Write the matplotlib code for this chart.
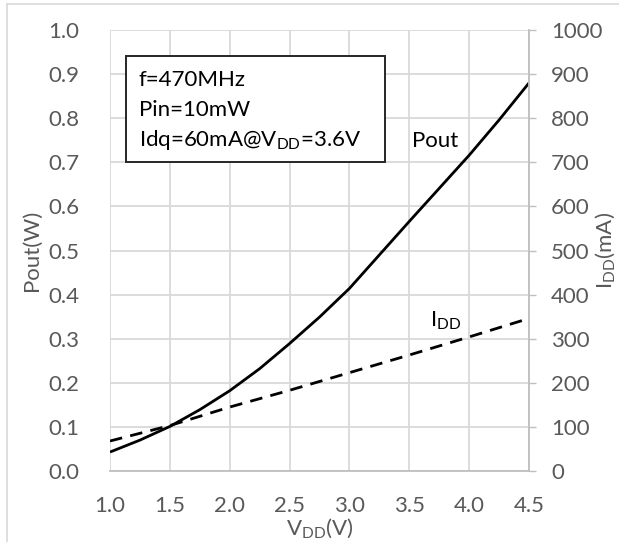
import matplotlib
matplotlib.use("Agg")
import matplotlib.pyplot as plt
from matplotlib.patches import Rectangle
from matplotlib.lines import Line2D

plt.rcParams['font.family'] = ['Lato', 'DejaVu Sans']

# Data
vdd_pout = [1.0, 1.25, 1.5, 1.75, 2.0, 2.25, 2.5, 2.75, 3.0, 3.25, 3.5, 3.75, 4.0, 4.25, 4.5]
pout_w = [0.043, 0.070, 0.101, 0.139, 0.182, 0.232, 0.289, 0.349, 0.414, 0.490, 0.566, 0.641, 0.716, 0.796, 0.880]
vdd_idd = [1.0, 1.5, 2.0, 2.5, 3.0, 3.5, 4.0, 4.5]
idd_ma = [68, 103, 145, 183, 223, 263, 304, 346]

x_ticks = [1.0, 1.5, 2.0, 2.5, 3.0, 3.5, 4.0, 4.5]
x_ticklabels = ['1.0', '1.5', '2.0', '2.5', '3.0', '3.5', '4.0', '4.5']
yl_ticks = [0.0, 0.1, 0.2, 0.3, 0.4, 0.5, 0.6, 0.7, 0.8, 0.9, 1.0]
yl_ticklabels = ['0.0', '0.1', '0.2', '0.3', '0.4', '0.5', '0.6', '0.7', '0.8', '0.9', '1.0']
yr_ticks = [0, 100, 200, 300, 400, 500, 600, 700, 800, 900, 1000]
yr_ticklabels = [str(v) for v in yr_ticks]

info_lines = ['f=470MHz', 'Pin=10mW', 'Idq=60mA@V$_\\mathregular{DD}$=3.6V']

GREY = '#595959'
GRID = '#d9d9d9'
FS = 16

fig = plt.figure(figsize=(6.19, 5.42), dpi=100)
fig.subplots_adjust(left=0.1777, right=0.8546, top=0.9446, bottom=0.131)
ax = fig.add_subplot(111)
ax2 = ax.twinx()

# Chart area border fragments (top & left) and clipped title
fig.add_artist(Line2D([7/619, 1], [1-4/542, 1-4/542], color=GRID, lw=1.2))
fig.add_artist(Line2D([7/619, 7/619], [0, 1-4/542], color=GRID, lw=1.2))
fig.text(0.5, 1 - 1/542, 'V$_\\mathregular{DD}$(V)', ha='center', va='bottom',
         fontsize=FS, color=GREY)

ax.set_xlim(1.0, 4.5)
ax.set_ylim(0, 1.0)
ax2.set_ylim(0, 1000)

ax.set_xticks(x_ticks)
ax.set_xticklabels(x_ticklabels)
ax.set_yticks(yl_ticks)
ax.set_yticklabels(yl_ticklabels)
ax2.set_yticks(yr_ticks)
ax2.set_yticklabels(yr_ticklabels)

ax.grid(True, color=GRID, lw=1.3)
ax.set_axisbelow(True)

for a in (ax, ax2):
    for s in ['top', 'left', 'right', 'bottom']:
        a.spines[s].set_visible(False)
ax.spines['bottom'].set_visible(True)
ax.spines['bottom'].set_color('#bfbfbf')
ax.spines['bottom'].set_linewidth(1.3)
ax2.spines['right'].set_visible(True)
ax2.spines['right'].set_color('#bfbfbf')
ax2.spines['right'].set_linewidth(1.3)

ax.tick_params(axis='x', length=0, pad=18, labelsize=FS, labelcolor=GREY)
ax.tick_params(axis='y', length=0, pad=22, labelsize=FS, labelcolor=GREY)
ax2.tick_params(axis='y', length=5, width=1.0, color='#bfbfbf', direction='out',
                pad=11, labelsize=FS, labelcolor=GREY)

ax.plot(vdd_pout, pout_w, color='black', lw=2.0, solid_capstyle='butt')
ax2.plot(vdd_idd, idd_ma, color='black', lw=2.0, linestyle=(0, (4.5, 3)))

ax.set_xlabel('V$_\\mathregular{DD}$(V)', fontsize=FS, color=GREY)
ax.xaxis.set_label_coords(0.5, -0.104)
ax.set_ylabel('Pout(W)', fontsize=FS, color=GREY)
ax.yaxis.set_label_coords(-0.162, 0.5)
ax2.set_ylabel('I$_\\mathregular{DD}$(mA)', fontsize=FS, color=GREY)
ax2.yaxis.set_label_coords(1.155, 0.5)

# Info box
ax2.add_patch(Rectangle((0.038, 0.701), 0.618, 0.240, transform=ax2.transAxes,
                        facecolor='white', edgecolor='#262626', lw=1.4, zorder=5))
for i, t in enumerate(info_lines):
    ax2.text(0.069, 0.887 - i * 0.068, t, transform=ax2.transAxes, ha='left',
             va='center', fontsize=FS, color='black', zorder=6)

ax2.text(0.776, 0.748, 'Pout', transform=ax2.transAxes, ha='center', va='center',
         fontsize=FS, color='black')
ax2.text(0.800, 0.340, 'I$_\\mathregular{DD}$', transform=ax2.transAxes, ha='center',
         va='center', fontsize=FS, color='black')

fig.savefig('out.png', dpi=100)
